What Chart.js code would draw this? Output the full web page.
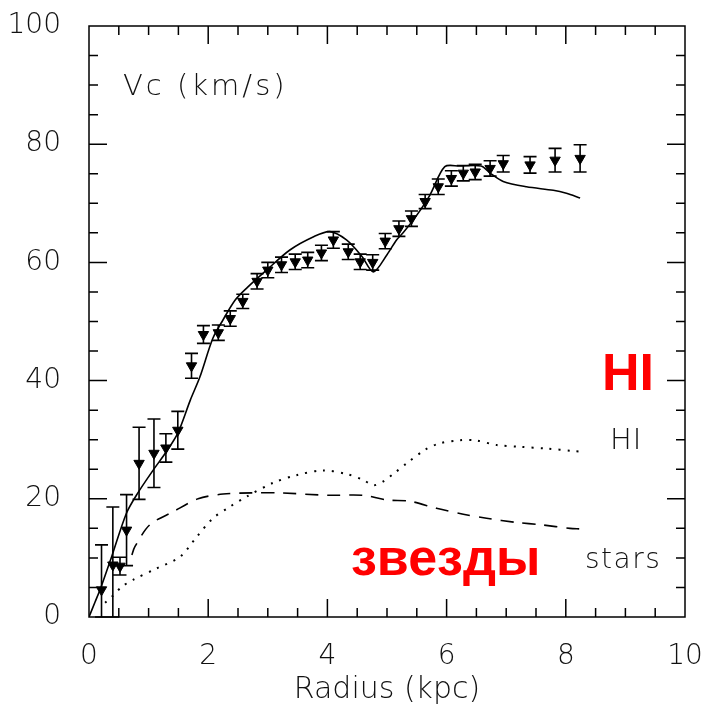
<!DOCTYPE html>
<html>
<head>
<meta charset="utf-8">
<script src="https://cdn.jsdelivr.net/npm/chart.js@4.4.1/dist/chart.umd.min.js"></script>
<style>
  html, body { margin: 0; padding: 0; background: #fff; }
  #wrap { width: 702px; height: 704px; }
</style>
</head>
<body>
<div id="wrap"><canvas id="rc"></canvas></div>
<script>
// observed rotation curve
const obsR = [0.21, 0.40, 0.52, 0.63, 0.84, 1.09, 1.29, 1.49, 1.72, 1.92, 2.17, 2.37, 2.58, 2.82, 3.00, 3.23, 3.46, 3.67,
              3.90, 4.10, 4.35, 4.55, 4.76, 4.97, 5.20, 5.41, 5.64, 5.86, 6.08, 6.28, 6.48, 6.73, 6.95, 7.40, 7.82, 8.24];
const obsV = [4.6, 8.8, 8.6, 14.7, 26.0, 27.7, 28.6, 31.6, 42.5, 47.8, 48.1, 50.5, 53.4, 56.8, 58.7, 59.6, 60.1, 60.4,
              61.6, 63.8, 61.8, 60.1, 60.0, 63.6, 65.7, 67.4, 70.3, 72.8, 74.2, 75.1, 75.3, 75.9, 76.7, 76.5, 77.3, 77.6];
const obsErr = [7.6, 9.8, 1.5, 6.0, 6.1, 5.8, 2.4, 3.2, 2.1, 1.5, 1.3, 1.3, 1.2, 1.3, 1.3, 1.3, 1.3, 1.3,
                1.3, 1.4, 1.3, 1.3, 1.3, 1.3, 1.3, 1.3, 1.2, 1.3, 1.3, 1.3, 1.3, 1.3, 1.4, 1.4, 2.0, 2.3];

// total model
const modelR = [0, 0.10, 0.20, 0.38, 0.63, 0.82, 1.08, 1.30, 1.49, 1.70, 1.86, 2.08, 2.25, 2.45, 2.65, 2.98, 3.37, 3.76,
                4.04, 4.32, 4.58, 4.77, 5.00, 5.16, 5.27, 5.50, 5.72, 5.97, 6.22, 6.58, 6.73, 6.95, 7.34, 7.79, 8.01, 8.24];
const modelV = [0, 2.5, 5.0, 10.2, 17.6, 21.0, 24.9, 28.0, 31.1, 36.7, 40.6, 47.2, 50.3, 53.6, 55.7, 58.7, 62.1, 64.3,
                65.2, 63.8, 61.0, 58.4, 61.3, 63.8, 65.0, 68.0, 71.4, 76.2, 76.3, 76.3, 75.1, 73.7, 72.8, 72.2, 71.7, 70.9];

// stellar disk
const starsR = [0.72, 0.77, 1.02, 1.41, 1.83, 2.25, 2.75, 3.20, 4.00, 4.60, 5.00, 5.38, 5.83, 6.28, 6.67, 7.17, 7.59, 8.07, 8.24];
const starsV = [10.5, 11.9, 15.6, 17.8, 20.0, 20.8, 21.0, 21.0, 20.6, 20.6, 19.8, 19.6, 18.4, 17.4, 16.7, 16.0, 15.6, 15.0, 14.9];

// HI gas
const gasR = [0.27, 0.38, 0.55, 0.74, 1.13, 1.53, 1.81, 2.08, 2.37, 2.65, 3.09, 3.48, 3.93, 4.32, 4.60, 4.77, 4.93, 5.13,
              5.33, 5.64, 5.89, 6.22, 6.48, 6.84, 7.23, 7.68, 8.12, 8.24];
const gasV = [2.4, 3.4, 5.1, 6.3, 8.2, 10.2, 13.6, 16.7, 18.7, 20.4, 22.7, 24.0, 24.8, 24.2, 23.2, 22.3, 22.9, 24.4,
              26.0, 28.3, 29.4, 29.9, 29.9, 29.1, 28.8, 28.5, 28.1, 28.0];

const xTicks = [0, 2, 4, 6, 8, 10];
const yTicks = [0, 20, 40, 60, 80, 100];

const toPts = (xs, ys) => xs.map((x, i) => ({ x: x, y: ys[i] }));

const FONT = 'DejaVu Sans';

// frame + inward ticks on all sides
const frameTicks = {
    id: 'frameTicks',
    afterDraw(chart) {
        const { ctx, chartArea: a, scales: { x, y } } = chart;
        ctx.save();
        ctx.strokeStyle = '#000';
        ctx.lineWidth = 1.5;
        ctx.strokeRect(a.left, a.top, a.right - a.left, a.bottom - a.top);
        ctx.beginPath();
        for (let v = 0.5; v < 10; v += 0.5) {
            const px = x.getPixelForValue(v);
            const len = Math.abs(v % 2) < 1e-6 ? 18 : 9;
            ctx.moveTo(px, a.bottom); ctx.lineTo(px, a.bottom - len);
            ctx.moveTo(px, a.top); ctx.lineTo(px, a.top + len);
        }
        for (let v = 5; v < 100; v += 5) {
            const py = y.getPixelForValue(v);
            const len = v % 20 === 0 ? 18 : 9;
            ctx.moveTo(a.left, py); ctx.lineTo(a.left + len, py);
            ctx.moveTo(a.right, py); ctx.lineTo(a.right - len, py);
        }
        ctx.stroke();
        ctx.restore();
    }
};

// error bars for the observed points
const errorBars = {
    id: 'errorBars',
    afterDatasetsDraw(chart) {
        const { ctx, scales: { x, y } } = chart;
        ctx.save();
        ctx.strokeStyle = '#000';
        ctx.lineWidth = 1.6;
        ctx.beginPath();
        obsR.forEach((r, i) => {
            const px = x.getPixelForValue(r);
            const lo = y.getPixelForValue(Math.max(0, obsV[i] - obsErr[i]));
            const hi = y.getPixelForValue(obsV[i] + obsErr[i]);
            ctx.moveTo(px, lo); ctx.lineTo(px, hi);
            ctx.moveTo(px - 6.5, hi); ctx.lineTo(px + 6.5, hi);
            ctx.moveTo(px - 6.5, lo); ctx.lineTo(px + 6.5, lo);
        });
        ctx.stroke();
        ctx.restore();
    }
};

// texts inside the plot
const labels = {
    id: 'labels',
    afterDraw(chart) {
        const ctx = chart.ctx;
        ctx.save();
        ctx.textBaseline = 'alphabetic';
        ctx.textAlign = 'left';
        ctx.fillStyle = '#111';
        ctx.font = '200 29px "' + FONT + '"';
        ctx.letterSpacing = '3px';
        ctx.fillText('Vc (km/s)', 123, 95);
        ctx.letterSpacing = '1px';
        ctx.fillText('HI', 610, 449);
        ctx.font = '200 28px "' + FONT + '"';
        ctx.letterSpacing = '1.5px';
        ctx.fillText('stars', 585, 568);
        ctx.letterSpacing = '0px';
        ctx.fillStyle = '#ff0000';
        ctx.font = 'bold 52px "Liberation Sans", Arial, sans-serif';
        ctx.fillText('HI', 602, 390);
        ctx.fillText('звезды', 351, 575);
        ctx.restore();
    }
};

new Chart(document.getElementById('rc'), {
    type: 'scatter',
    data: {
        datasets: [
            {
                label: 'model',
                data: toPts(modelR, modelV),
                showLine: true,
                borderColor: '#000',
                borderWidth: 1.6,
                pointRadius: 0,
                tension: 0.3
            },
            {
                label: 'stars',
                data: toPts(starsR, starsV),
                showLine: true,
                borderColor: '#000',
                borderWidth: 1.6,
                borderDash: [13, 9],
                pointRadius: 0,
                tension: 0.3
            },
            {
                label: 'HI',
                data: toPts(gasR, gasV),
                showLine: true,
                borderColor: '#000',
                borderWidth: 2,
                borderDash: [2, 7],
                pointRadius: 0,
                tension: 0.3
            },
            {
                label: 'observed',
                data: toPts(obsR, obsV),
                showLine: false,
                pointStyle: 'triangle',
                rotation: 180,
                pointRadius: 6,
                backgroundColor: '#000',
                borderColor: '#000',
                borderWidth: 1
            }
        ]
    },
    options: {
        responsive: true,
        maintainAspectRatio: false,
        animation: false,
        devicePixelRatio: 1,
        layout: { padding: { top: 26, right: 17, left: 0, bottom: 0 } },
        plugins: {
            legend: { display: false },
            tooltip: { enabled: false }
        },
        scales: {
            x: {
                type: 'linear',
                min: 0,
                max: 10,
                afterFit: s => { s.height = 87; s.paddingLeft = 0; s.paddingRight = 0; },
                afterBuildTicks: s => { s.ticks = xTicks.map(v => ({ value: v })); },
                grid: { display: false },
                border: { display: false },
                ticks: {
                    color: '#111',
                    padding: 15,
                    maxRotation: 0,
                    font: { family: FONT, size: 28, weight: '200' }
                },
                title: {
                    display: true,
                    text: 'Radius (kpc)',
                    color: '#111',
                    padding: { top: 0, bottom: -4 },
                    font: { family: FONT, size: 30, weight: '200' }
                }
            },
            y: {
                type: 'linear',
                min: 0,
                max: 100,
                afterFit: s => { s.width = 89; s.paddingTop = 0; s.paddingBottom = 0; },
                afterBuildTicks: s => { s.ticks = yTicks.map(v => ({ value: v })); },
                grid: { display: false },
                border: { display: false },
                ticks: {
                    color: '#111',
                    padding: 20,
                    font: { family: FONT, size: 28, weight: '200' }
                }
            }
        }
    },
    plugins: [errorBars, frameTicks, labels]
});
</script>
</body>
</html>
